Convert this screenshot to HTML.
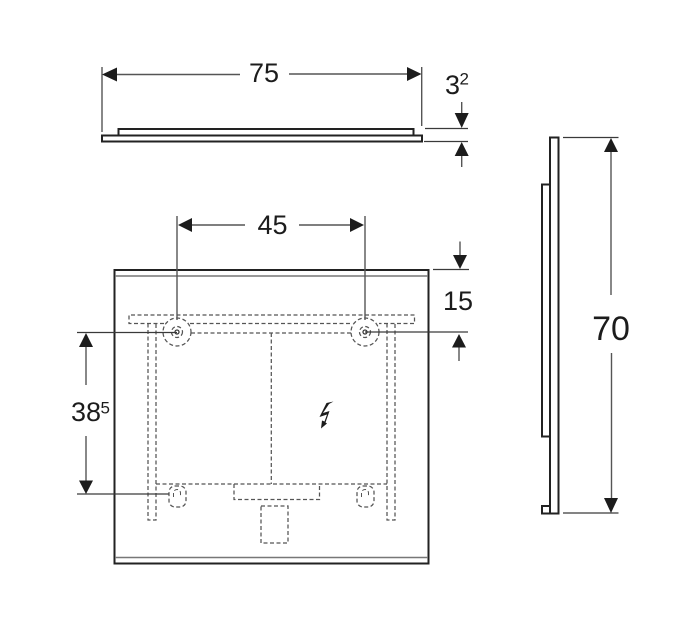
<!DOCTYPE html>
<html>
<head>
<meta charset="utf-8">
<style>
html,body{margin:0;padding:0;background:#fff;width:678px;height:630px;overflow:hidden}
svg{display:block}
text{font-family:"Liberation Sans",sans-serif;fill:#1c1c1c}
.k{stroke:#222;fill:none;stroke-width:2}
.g{stroke:#555;fill:none;stroke-width:1.4}
.n{stroke:#3a3a3a;fill:none;stroke-width:1.3}
.d{stroke:#555;fill:none;stroke-width:1.25;stroke-dasharray:4 2.5}
.a{fill:#1c1c1c;stroke:none}
</style>
</head>
<body>
<svg width="678" height="630" viewBox="0 0 678 630" xmlns="http://www.w3.org/2000/svg">
<!-- top view -->
<rect class="k" x="118.5" y="129" width="295" height="6.5"/>
<rect x="102" y="135.500" width="320" height="6" fill="#fff" stroke="#222" stroke-width="2"/>
<path class="g" d="M102 67V132M421.700 67V126"/>
<path class="g" d="M117 74.500H240M289 74H407"/>
<polygon class="a" points="102,74.500 117,67.500 117,81.500"/>
<polygon class="a" points="421.500,74 407,67 407,81"/>
<text x="264" y="82" font-size="27" text-anchor="middle">75</text>
<text x="445" y="94" font-size="27">3</text>
<text x="459.500" y="84.500" font-size="17">2</text>
<path class="n" d="M425 128.500H468M424 141.500H468"/>
<path class="g" d="M461.700 102V114M461.700 156V167"/>
<polygon class="a" points="461.700,128 454.700,113 468.700,113"/>
<polygon class="a" points="461.700,142 454.700,156 468.700,156"/>

<!-- front view -->
<rect x="114.500" y="270" width="314" height="293.500" fill="none" stroke="#222" stroke-width="2"/>
<path class="g" d="M115 276H428M115 557.500H428" style="stroke:#777"/>

<!-- hidden lines -->
<path class="d" d="M164 323.500H129V315H414.500V323.500H379M190 323.500H352"/>
<path class="d" d="M191 333H351M271.300 333V484"/>
<path class="d" d="M148 323.500V520H156V323.500"/>
<path class="d" d="M387 323.500V520H395V323.500"/>
<path class="d" d="M156 484H387"/>
<path class="d" d="M234 484V499.500H319.500V484"/>
<rect class="d" x="261" y="506" width="27" height="37"/>
<circle class="d" cx="177" cy="332" r="14" stroke-dasharray="3.500 2.500"/>
<circle class="d" cx="177" cy="332" r="5.500" stroke-dasharray="3 2"/>
<circle class="n" cx="177" cy="332" r="2" stroke-width="1"/>
<circle class="d" cx="365" cy="332" r="14" stroke-dasharray="3.500 2.500"/>
<circle class="d" cx="365" cy="332" r="5.500" stroke-dasharray="3 2"/>
<circle class="n" cx="365" cy="332" r="2" stroke-width="1"/>
<rect class="d" x="169" y="486" width="17" height="21" rx="6" stroke-dasharray="3 2"/>
<rect class="d" x="357" y="486" width="17" height="21" rx="6" stroke-dasharray="3 2"/>
<path class="d" d="M173.500 497V493A3.500 3.500 0 0 1 180.500 493V497M361.500 497V493A3.500 3.500 0 0 1 368.500 493V497" stroke-dasharray="2.500 1.500" style="stroke-width:1"/>

<!-- lightning -->
<polygon class="a" points="333.500,401.500 326.500,403 319.500,417 327,414.500 324.500,421.500 322,420.500 321,428.500 327,423.500 325.500,422.500 329.500,411 323,413 329,404"/>

<!-- 45 -->
<path class="g" d="M177 216V320M365 216V320"/>
<path class="g" d="M192 225H245M299 225H350"/>
<polygon class="a" points="178,225 192,218 192,232"/>
<polygon class="a" points="364,225 350,218 350,232"/>
<text x="272.500" y="234" font-size="27" text-anchor="middle">45</text>

<!-- 15 -->
<path class="n" d="M433 269.500H469M365 332H468"/>
<path class="g" d="M460 241.500V255M459 347V361"/>
<polygon class="a" points="460,269 453,255 467,255"/>
<polygon class="a" points="459,334 452,347.500 466,347.500"/>
<text x="458" y="310" font-size="27" text-anchor="middle">15</text>

<!-- 38.5 -->
<path class="n" d="M77 332.500H177M77 494H169"/>
<path class="g" d="M86 347V385M86 436V481"/>
<polygon class="a" points="86,333 79,347 93,347"/>
<polygon class="a" points="86,494 79,480.500 93,480.500"/>
<text x="71" y="421" font-size="27">38</text>
<text x="100.500" y="413.500" font-size="17">5</text>

<!-- side view -->
<rect class="k" x="550" y="137.500" width="8.500" height="376"/>
<path class="k" d="M549.500 184.500H542V436.500H549.500"/>
<path class="k" d="M549.500 506H542V513.500H549.500"/>
<path class="n" d="M563 137.500H618.500M563 513H618.500"/>
<path class="g" d="M611 152V295M611.500 353V498"/>
<polygon class="a" points="611,138 604,152 618,152"/>
<polygon class="a" points="611,513 604,498 618,498"/>
<text x="611" y="340" font-size="34" text-anchor="middle">70</text>
</svg>
</body>
</html>
